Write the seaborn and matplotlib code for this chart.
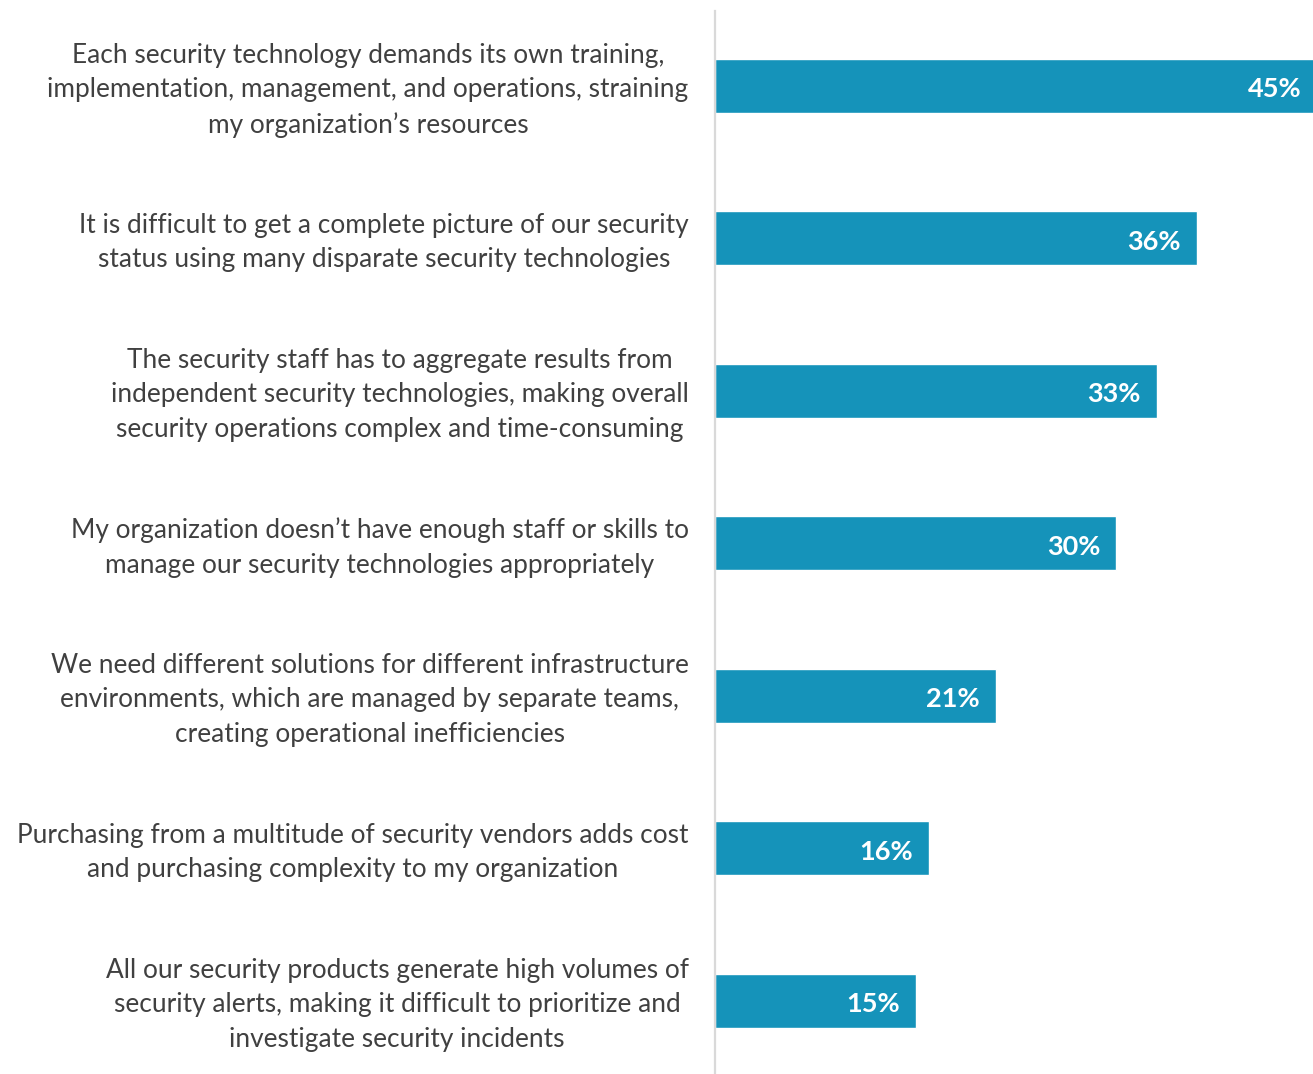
import matplotlib
matplotlib.use("Agg")
import matplotlib.pyplot as plt
import matplotlib.transforms as mtransforms
import seaborn as sns
import pandas as pd

categories = [
    "Each security technology demands its own training,\nimplementation, management, and operations, straining\nmy organization\u2019s resources",
    "It is difficult to get a complete picture of our security\nstatus using many disparate security technologies",
    "The security staff has to aggregate results from\nindependent security technologies, making overall\nsecurity operations complex and time-consuming",
    "My organization doesn\u2019t have enough staff or skills to\nmanage our security technologies appropriately",
    "We need different solutions for different infrastructure\nenvironments, which are managed by separate teams,\ncreating operational inefficiencies",
    "Purchasing from a multitude of security vendors adds cost\nand purchasing complexity to my organization",
    "All our security products generate high volumes of\nsecurity alerts, making it difficult to prioritize and\ninvestigate security incidents",
]
values = [45, 36, 33, 30, 21, 16, 15]
value_labels = ["45%", "36%", "33%", "30%", "21%", "16%", "15%"]

df = pd.DataFrame({"category": categories, "value": values})

sns.set_theme(style="white")
plt.rcParams["font.family"] = ["Lato", "DejaVu Sans"]

W, H = 1313, 1074
fig = plt.figure(figsize=(W / 100, H / 100), dpi=100)
ax = fig.add_axes([715 / W, 0, 1 - 715 / W, 1 - 11 / H])

sns.barplot(data=df, y="category", x="value", orient="h", color="#1593BA",
            saturation=1, width=0.355, ax=ax)

ax.set_xlim(0, 598 / 13.38)
ax.set_ylim(6.48, -0.49)
ax.set_xlabel("")
ax.set_ylabel("")
ax.set_xticks([])

for s in ["top", "right", "bottom"]:
    ax.spines[s].set_visible(False)
ax.spines["left"].set_color("#d9d9d9")
ax.spines["left"].set_linewidth(1.6)

ax.tick_params(axis="y", length=0, pad=19, labelsize=18.9, labelcolor="#404040")
shift = mtransforms.ScaledTranslation(0, 3 / 100, fig.dpi_scale_trans)
for lbl in ax.get_yticklabels():
    lbl.set_multialignment("center")
    lbl.set_linespacing(1.47)
    lbl.set_transform(lbl.get_transform() + shift)

for i, (v, t) in enumerate(zip(values, value_labels)):
    ax.annotate(t, xy=(v, i), xytext=(-11.5, -2.5), textcoords="offset points",
                ha="right", va="center", color="white", fontsize=19.5,
                fontweight="bold", annotation_clip=False, clip_on=True)

fig.savefig("out.png", dpi=100)
